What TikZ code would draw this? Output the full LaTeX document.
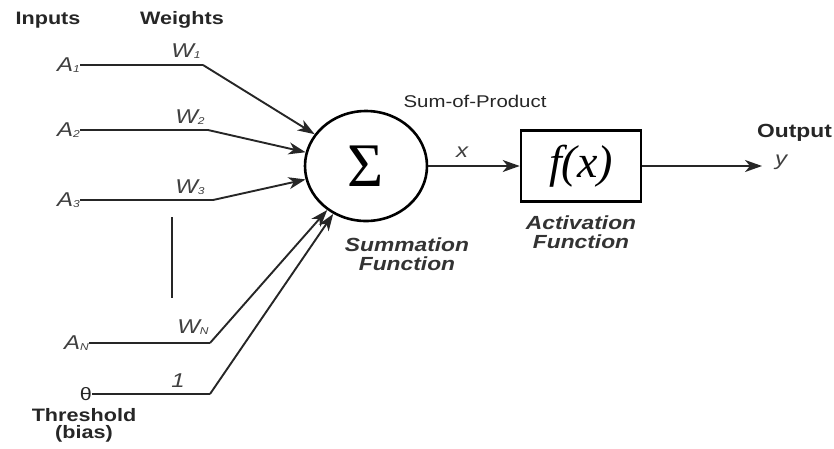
\documentclass[tikz,border=0pt]{standalone}
\usepackage{fontspec}
\setmainfont{Liberation Sans}[FakeStretch=1.2]
\newfontfamily\serfont{Liberation Serif}
\usetikzlibrary{arrows.meta,shapes.geometric}
\newcommand{\wsub}[2]{#1\raisebox{-1.5pt}{\fontsize{10}{10}\selectfont #2}}
\tikzset{
  wire/.style={line width=1.9pt,black!85},
  arr/.style={wire,-{Stealth[length=17pt,width=12pt,inset=5pt]}},
  lbl/.style={font=\fontsize{18}{18}\selectfont\bfseries,text=black!85,inner sep=0pt},
  var/.style={font=\fontsize{20}{20}\selectfont\itshape,text=black!75,inner sep=0pt},
  caption/.style={font=\fontsize{19}{19}\selectfont\bfseries\itshape,text=black!80,align=center,inner sep=0pt},
}
\begin{document}
\begin{tikzpicture}[x=1pt,y=-1pt]
    \useasboundingbox (0,0) rectangle (834,448);

    \node[lbl] (inputs)  at (48,20)  {Inputs};
    \node[lbl] (weights) at (182,20) {Weights};

    \node[var,anchor=east] (a1) at (80,65)  {\wsub{A}{1}};
    \node[var,anchor=east] (a2) at (80,130) {\wsub{A}{2}};
    \node[var,anchor=east] (a3) at (80,200) {\wsub{A}{3}};
    \node[var,anchor=east] (aN) at (89,343) {\wsub{A}{N}};
    \node[font=\fontsize{18}{18}\selectfont,text=black!85,inner sep=0pt,anchor=east] (theta) at (92,394) {θ};

    \coordinate (b1) at (203,65);
    \coordinate (b2) at (208,130);
    \coordinate (b3) at (213,200);
    \coordinate (bN) at (210,343);
    \coordinate (bt) at (210,394);

    \node[var] (w1) at (186,51)  {\wsub{W}{1}};
    \node[var] (w2) at (190,117) {\wsub{W}{2}};
    \node[var] (w3) at (190,187) {\wsub{W}{3}};
    \node[var] (wN) at (193,327) {\wsub{W}{N}};
    \node[var] (one) at (178,381) {1};

    \coordinate (dtop) at (172,217);
    \coordinate (dbot) at (172,298);
    \draw[wire] (dtop) -- (dbot);

    \node[draw,ellipse,line width=2.6pt,minimum width=122,minimum height=110,inner sep=0pt] (sum) at (366,166)
        {\fontsize{62}{62}\serfont Σ};
    \node[draw,line width=2.6pt,minimum width=120,minimum height=71,inner sep=0pt] (act) at (581,166)
        {\fontsize{46}{46}\serfont\itshape f(x)};
    \coordinate (out) at (762,166);

    \draw[wire] (a1) -- (b1);  \draw[arr] (b1) -- (sum);
    \draw[wire] (a2) -- (b2);  \draw[arr] (b2) -- (sum);
    \draw[wire] (a3) -- (b3);  \draw[arr] (b3) -- (sum);
    \draw[wire] (aN) -- (bN);  \draw[arr] (bN) -- (sum);
    \draw[wire] (theta) -- (bt); \draw[arr] (bt) -- (sum);
    \draw[arr] (sum) -- (act);
    \draw[arr] (act) -- (out);

    \node[font=\fontsize{17}{17}\selectfont,text=black!85,inner sep=0pt] (sop) at (475,101) {Sum-of-Product};
    \node[var] (xlbl) at (462,152) {x};
    \node[caption] (sumlbl) at (407,254) {Summation\\Function};
    \node[caption] (actlbl) at (581,232) {Activation\\Function};
    \node[font=\fontsize{19}{19}\selectfont\bfseries,text=black!85,inner sep=0pt,anchor=west] (output) at (757,133) {Output};
    \node[var] (ylbl) at (781,162) {y};
    \node[font=\fontsize{18}{17}\selectfont\bfseries,text=black!85,align=center,inner sep=0pt] (thr) at (84,425) {Threshold\\(bias)};
\end{tikzpicture}
\end{document}
